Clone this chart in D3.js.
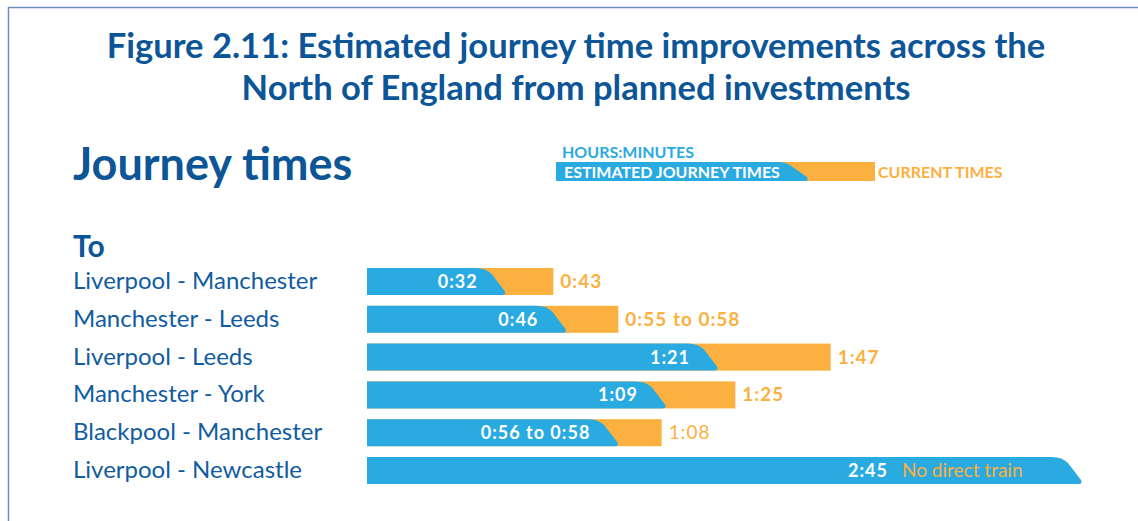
<!DOCTYPE html>
<html lang="en">
<head>
<meta charset="utf-8">
<title>Journey times</title>
<script src="https://cdn.jsdelivr.net/npm/d3@7"></script>
<style>
  body { margin: 0; background: #fff; }
  svg { display: block; font-family: Lato, "Open Sans", sans-serif; }
</style>
</head>
<body>
<script>
// routes and times in minutes (ranges kept as low/high)
var routes = ["Liverpool - Manchester", "Manchester - Leeds", "Liverpool - Leeds",
              "Manchester - York", "Blackpool - Manchester", "Liverpool - Newcastle"];
var estLow  = [32, 46, 81, 69, 56, 165];
var estHigh = [32, 46, 81, 69, 58, 165];
var curLow  = [43, 55, 107, 85, 68, null];
var curHigh = [43, 58, 107, 85, 68, null];
var noTrainText = "No direct train";

var w = 1138, h = 521;
var blue = "#29aae1", orange = "#fbb040", navy = "#0c5597";

var svg = d3.select("body").append("svg").attr("width", w).attr("height", h);

// frame
svg.append("path")
  .attr("d", "M8.5," + h + " V7.5 H" + w)
  .attr("fill", "none").attr("stroke", "#6e8fc0").attr("stroke-width", 1.5);

// titles
svg.append("text").attr("x", 576).attr("y", 58).attr("text-anchor", "middle")
  .attr("font-size", 34.5).attr("font-weight", "bold").attr("fill", navy)
  .text("Figure 2.11: Estimated journey time improvements across the");
svg.append("text").attr("x", 576).attr("y", 100).attr("text-anchor", "middle")
  .attr("font-size", 34.5).attr("font-weight", "bold").attr("fill", navy)
  .text("North of England from planned investments");
svg.append("text").attr("x", 73).attr("y", 180)
  .attr("font-size", 45).attr("font-weight", "bold").attr("fill", navy)
  .text("Journey times");
svg.append("text").attr("x", 73).attr("y", 257)
  .attr("font-size", 30).attr("font-weight", "bold").attr("fill", navy)
  .text("To");

// bar with slanted rounded end
function slantBar(x0, x1, y, bh) {
  var p = d3.path();
  p.moveTo(x0, y);
  p.lineTo(x1 - 30, y);
  p.quadraticCurveTo(x1 - 20, y, x1 - 14, y + 6);
  p.lineTo(x1 - 1, y + bh - 4);
  p.quadraticCurveTo(x1 + 1, y + bh, x1 - 4, y + bh);
  p.lineTo(x0, y + bh);
  p.closePath();
  return p.toString();
}

// legend
svg.append("text").attr("x", 562).attr("y", 158)
  .attr("font-size", 16).attr("font-weight", "bold").attr("fill", blue)
  .text("HOURS:MINUTES");
svg.append("rect").attr("x", 556).attr("y", 162).attr("width", 319).attr("height", 19)
  .attr("fill", orange);
svg.append("path").attr("d", slantBar(556, 808, 162, 19)).attr("fill", blue);
svg.append("text").attr("x", 564).attr("y", 178)
  .attr("font-size", 16).attr("font-weight", "bold").attr("fill", "#fff")
  .text("ESTIMATED JOURNEY TIMES");
svg.append("text").attr("x", 878).attr("y", 178)
  .attr("font-size", 16).attr("font-weight", "bold").attr("fill", orange)
  .text("CURRENT TIMES");

// scales
var x = d3.scaleLinear().domain([0, 165]).range([367, 1082]);
var bh = 27;
var y = d3.scaleBand().domain(routes).range([268, 484]).paddingInner(0.286).paddingOuter(0);

function fmt(m) { return Math.floor(m / 60) + ":" + d3.format("02")(m % 60); }
function rangeFmt(lo, hi) { return lo === hi ? fmt(lo) : fmt(lo) + " to " + fmt(hi); }

var rows = routes.map(function(r, i) {
  return { route: r, eLo: estLow[i], eHi: estHigh[i], cLo: curLow[i], cHi: curHigh[i] };
});

var g = svg.selectAll("g.row").data(rows).enter().append("g").attr("class", "row");

g.append("text").attr("x", 73).attr("y", function(d) { return y(d.route) + 21; })
  .attr("font-size", 24).attr("fill", "#105c9f")
  .text(function(d) { return d.route; });

g.filter(function(d) { return d.cHi != null; }).append("rect")
  .attr("x", x(0)).attr("y", function(d) { return y(d.route); })
  .attr("width", function(d) { return x(d.cHi) - x(0); }).attr("height", bh)
  .attr("fill", orange);

g.append("path")
  .attr("d", function(d) { return slantBar(x(0), x(d.eHi), y(d.route), bh); })
  .attr("fill", blue);

// estimated label; on the no-current row it sits left of the note
g.append("text")
  .attr("x", function(d) { return d.cHi != null ? x(d.eHi) - 28 : x(d.eHi) - 194; })
  .attr("y", function(d) { return y(d.route) + 20; })
  .attr("text-anchor", "end").attr("font-size", 18).attr("font-weight", "bold")
  .attr("letter-spacing", 1).attr("fill", "#fff")
  .text(function(d) { return rangeFmt(d.eLo, d.eHi); });

g.append("text")
  .attr("x", function(d) { return d.cHi != null ? x(d.cHi) + 7 : x(d.eHi) - 180; })
  .attr("y", function(d) { return y(d.route) + 20; })
  .attr("font-size", function(d) { return d.cHi != null ? 19 : 19; })
  .attr("font-weight", function(d, i) { return i === 4 || d.cHi == null ? "normal" : "bold"; })
  .attr("letter-spacing", function(d) { return d.cHi != null ? 1 : 0; })
  .attr("fill", orange)
  .text(function(d) { return d.cHi != null ? rangeFmt(d.cLo, d.cHi) : noTrainText; });
</script>
</body>
</html>
